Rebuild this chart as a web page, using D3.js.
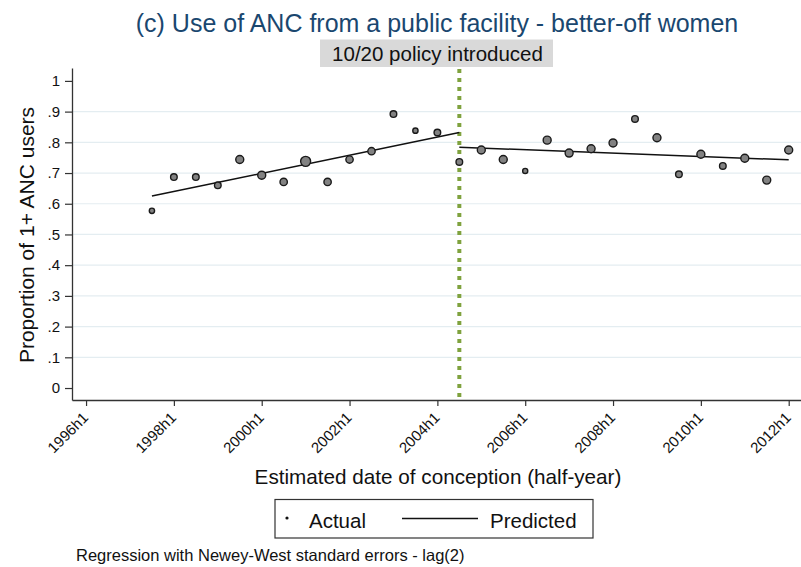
<!DOCTYPE html>
<html>
<head>
<meta charset="utf-8">
<script src="https://cdn.jsdelivr.net/npm/d3@7"></script>
<style>
  body { margin: 0; background: #fff; }
  svg text { font-family: "Liberation Sans", Arial, sans-serif; }
</style>
</head>
<body>
<div id="chart"></div>
<script>
// half-year periods with an observed value
var periods = ["1997h2","1998h1","1998h2","1999h1","1999h2","2000h1","2000h2","2001h1","2001h2","2002h1",
               "2002h2","2003h1","2003h2","2004h1","2004h2","2005h1","2005h2","2006h1","2006h2","2007h1",
               "2007h2","2008h1","2008h2","2009h1","2009h2","2010h1","2010h2","2011h1","2011h2","2012h1"];
var actual = [.577,.687,.687,.660,.744,.693,.671,.738,.671,.744,
              .771,.892,.838,.832,.736,.775,.744,.707,.807,.765,
              .779,.798,.876,.815,.696,.761,.723,.748,.677,.775];
// number of women behind each point (marker weight)
var weights = [70,110,110,110,160,160,135,250,135,135,
               135,110,70,110,110,160,160,65,160,160,
               160,160,110,160,110,160,110,160,160,160];

// fitted segments before / after the policy
var preFitPeriods = ["1997h2","2004h2"];
var preFit = [.625,.832];
var postFitPeriods = ["2004h2","2012h1"];
var postFit = [.784,.743];

var policyPeriod = "2004h2";
var xTicks = ["1996h1","1998h1","2000h1","2002h1","2004h1","2006h1","2008h1","2010h1","2012h1"];
var yTicks = [0,.1,.2,.3,.4,.5,.6,.7,.8,.9,1];

var w = 801, h = 567;

function idx(p) {
    var yr = +p.slice(0,4), half = +p.slice(5);
    return (yr - 1996) * 2 + (half - 1);
}

var svg = d3.select("#chart").append("svg")
    .attr("width", w)
    .attr("height", h);

var xScale = d3.scaleLinear().domain([-0.64, 32.56]).range([72, 801]);
var yScale = d3.scaleLinear().domain([-0.039, 1.042]).range([400, 68]);
var rScale = d3.scaleSqrt().domain([0, 160]).range([0, 4]);

// gridlines
svg.append("g")
    .selectAll("line")
    .data(yTicks.filter(function(d){ return d > 0 && d < 1; }))
    .join("line")
    .attr("x1", 73).attr("x2", 801)
    .attr("y1", function(d){ return yScale(d); })
    .attr("y2", function(d){ return yScale(d); })
    .attr("stroke", "#e4edf1")
    .attr("stroke-width", 1.2);

// policy line
svg.append("line")
    .attr("x1", xScale(idx(policyPeriod))).attr("x2", xScale(idx(policyPeriod)))
    .attr("y1", 69).attr("y2", 400)
    .attr("stroke", "#7fa23e")
    .attr("stroke-width", 4)
    .attr("stroke-dasharray", "4,5");

// Y axis
var yAxis = d3.axisLeft(yScale)
    .tickValues(yTicks)
    .tickSize(7)
    .tickSizeOuter(0)
    .tickFormat(function(d){ return d === 0 ? "0" : d === 1 ? "1" : d3.format(".1f")(d).replace(/^0/, ""); });

var gy = svg.append("g")
    .attr("transform", "translate(72,0)")
    .call(yAxis);
gy.select(".domain").attr("stroke", "#333").attr("stroke-width", 1.3);
gy.selectAll(".tick line").attr("stroke", "#333").attr("stroke-width", 1.2);
gy.selectAll(".tick text").attr("font-size", 15).attr("fill", "#111").attr("x", -12);

// X axis
var xAxis = d3.axisBottom(xScale)
    .tickValues(xTicks.map(idx))
    .tickSize(6)
    .tickSizeOuter(0)
    .tickFormat(function(d, i){ return xTicks[i]; });

var gx = svg.append("g")
    .attr("transform", "translate(0,400)")
    .call(xAxis);
gx.select(".domain").attr("stroke", "#333").attr("stroke-width", 1.3);
gx.selectAll(".tick line").attr("stroke", "#333").attr("stroke-width", 1.2);
gx.selectAll(".tick text")
    .attr("font-size", 15)
    .attr("fill", "#111")
    .attr("text-anchor", "end")
    .attr("y", 0).attr("dy", "0.35em")
    .attr("transform", "translate(-1,15) rotate(-45)");

// fitted lines
var line = d3.line()
    .x(function(d){ return xScale(idx(d[0])); })
    .y(function(d){ return yScale(d[1]); });

svg.append("path")
    .datum(d3.zip(preFitPeriods, preFit))
    .attr("d", line)
    .attr("fill", "none").attr("stroke", "#111").attr("stroke-width", 1.5);
svg.append("path")
    .datum(d3.zip(postFitPeriods, postFit))
    .attr("d", line)
    .attr("fill", "none").attr("stroke", "#111").attr("stroke-width", 1.5);

// actual points
var pts = periods.map(function(p, i){ return {p: p, v: actual[i], n: weights[i]}; });
svg.append("g")
    .selectAll("circle")
    .data(pts)
    .join("circle")
    .attr("cx", function(d){ return xScale(idx(d.p)); })
    .attr("cy", function(d){ return yScale(d.v); })
    .attr("r", function(d){ return rScale(d.n); })
    .attr("fill", "#828282")
    .attr("stroke", "#1a1a1a")
    .attr("stroke-width", 1.4);

// titles
svg.append("text")
    .attr("x", 437).attr("y", 32)
    .attr("text-anchor", "middle")
    .attr("font-size", 25)
    .attr("fill", "#1a476f")
    .text("(c) Use of ANC from a public facility - better-off women");

svg.append("rect")
    .attr("x", 320).attr("y", 39.5).attr("width", 233).attr("height", 27.5)
    .attr("fill", "#d9d9d9");
svg.append("text")
    .attr("x", 437.5).attr("y", 61)
    .attr("text-anchor", "middle")
    .attr("font-size", 20.5)
    .attr("fill", "#111")
    .text("10/20 policy introduced");

svg.append("text")
    .attr("transform", "translate(34,235) rotate(-90)")
    .attr("text-anchor", "middle")
    .attr("font-size", 21)
    .attr("fill", "#111")
    .text("Proportion of 1+ ANC users");

svg.append("text")
    .attr("x", 438).attr("y", 484)
    .attr("text-anchor", "middle")
    .attr("font-size", 20.7)
    .attr("fill", "#111")
    .text("Estimated date of conception (half-year)");

// legend
var lg = svg.append("g");
lg.append("rect")
    .attr("x", 275).attr("y", 499.5).attr("width", 318).attr("height", 38.5)
    .attr("fill", "#fff").attr("stroke", "#333").attr("stroke-width", 1.2);
lg.append("circle").attr("cx", 287).attr("cy", 518).attr("r", 1.6).attr("fill", "#111");
lg.append("text").attr("x", 309).attr("y", 528).attr("font-size", 20.5).attr("fill", "#111").text("Actual");
lg.append("line").attr("x1", 402).attr("x2", 478).attr("y1", 518.5).attr("y2", 518.5)
    .attr("stroke", "#111").attr("stroke-width", 1.5);
lg.append("text").attr("x", 490).attr("y", 528).attr("font-size", 20.5).attr("fill", "#111").text("Predicted");

svg.append("text")
    .attr("x", 76).attr("y", 561)
    .attr("font-size", 16.5)
    .attr("fill", "#111")
    .text("Regression with Newey-West standard errors - lag(2)");
</script>
</body>
</html>
